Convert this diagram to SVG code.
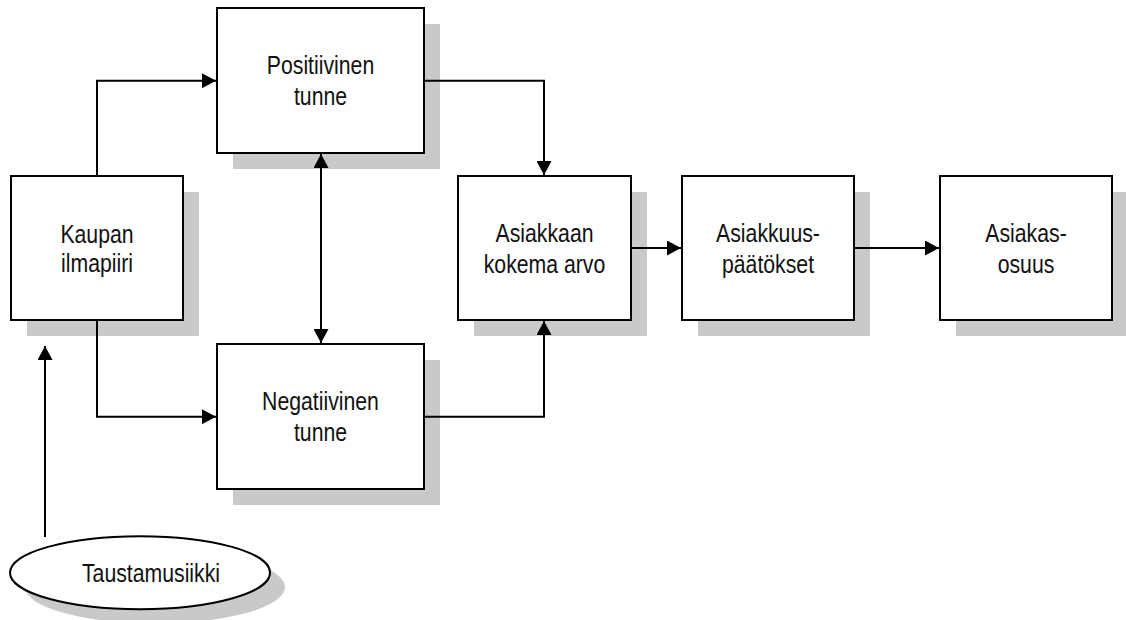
<svg xmlns="http://www.w3.org/2000/svg" width="1126" height="620" viewBox="0 0 1126 620">
  <style>
    .box { fill: #ffffff; stroke: #000000; stroke-width: 2; }
    .shadow { fill: #c8c9cb; stroke: none; }
    .link { fill: none; stroke: #000000; stroke-width: 2; }
    .label { font-family: "Liberation Sans", Arial, sans-serif; font-size: 25px; fill: #111111; text-anchor: middle; }
  </style>
  <defs>
    <marker id="head" markerUnits="userSpaceOnUse" markerWidth="15" markerHeight="15" refX="14" refY="7.5" orient="auto-start-reverse">
      <path d="M0,0 L14,7.5 L0,15 z" fill="#000000"/>
    </marker>
  </defs>
  <rect width="1126" height="620" fill="#ffffff"/>

  <g id="kaupan-ilmapiiri">
    <rect class="shadow" x="27" y="192" width="172" height="144"/>
    <rect class="box" x="11" y="176" width="172" height="144"/>
    <text class="label" transform="translate(97,243) scale(0.85,1)">Kaupan</text>
    <text class="label" transform="translate(97,272) scale(0.85,1)">ilmapiiri</text>
  </g>

  <g id="positiivinen-tunne">
    <rect class="shadow" x="233" y="24" width="207" height="145"/>
    <rect class="box" x="217" y="8" width="207" height="145"/>
    <text class="label" transform="translate(320.5,74) scale(0.85,1)">Positiivinen</text>
    <text class="label" transform="translate(320.5,105) scale(0.85,1)">tunne</text>
  </g>

  <g id="negatiivinen-tunne">
    <rect class="shadow" x="233" y="360" width="207" height="145"/>
    <rect class="box" x="217" y="344" width="207" height="145"/>
    <text class="label" transform="translate(320.5,410) scale(0.85,1)">Negatiivinen</text>
    <text class="label" transform="translate(320.5,441) scale(0.85,1)">tunne</text>
  </g>

  <g id="asiakkaan-kokema-arvo">
    <rect class="shadow" x="474" y="192" width="173" height="144"/>
    <rect class="box" x="458" y="176" width="173" height="144"/>
    <text class="label" transform="translate(544.5,242) scale(0.85,1)">Asiakkaan</text>
    <text class="label" transform="translate(544.5,273) scale(0.85,1)">kokema arvo</text>
  </g>

  <g id="asiakkuuspaatokset">
    <rect class="shadow" x="698" y="192" width="172" height="144"/>
    <rect class="box" x="682" y="176" width="172" height="144"/>
    <text class="label" transform="translate(768,242) scale(0.85,1)">Asiakkuus-</text>
    <text class="label" transform="translate(768,273) scale(0.85,1)">päätökset</text>
  </g>

  <g id="asiakasosuus">
    <rect class="shadow" x="956" y="192" width="172" height="144"/>
    <rect class="box" x="940" y="176" width="172" height="144"/>
    <text class="label" transform="translate(1026,242) scale(0.85,1)">Asiakas-</text>
    <text class="label" transform="translate(1026,273) scale(0.85,1)">osuus</text>
  </g>

  <g id="taustamusiikki">
    <ellipse class="shadow" cx="155" cy="587" rx="130" ry="36.5"/>
    <ellipse class="box" cx="140" cy="572.7" rx="130" ry="36.5"/>
    <text class="label" transform="translate(151,581.5) scale(0.85,1)">Taustamusiikki</text>
  </g>

  <!-- connectors, drawn over the drop shadows -->
  <g id="connectors">
    <path class="link" d="M97,176 V80.7 H216" marker-end="url(#head)"/>
    <path class="link" d="M97,320 V416.7 H216" marker-end="url(#head)"/>
    <path class="link" d="M321,154 V343" marker-start="url(#head)" marker-end="url(#head)"/>
    <path class="link" d="M424,80.7 H544 V175" marker-end="url(#head)"/>
    <path class="link" d="M424,416.7 H544 V321" marker-end="url(#head)"/>
    <path class="link" d="M631,248 H681" marker-end="url(#head)"/>
    <path class="link" d="M854,248 H939" marker-end="url(#head)"/>
    <path class="link" d="M45,537 V346" marker-end="url(#head)"/>
  </g>
</svg>
